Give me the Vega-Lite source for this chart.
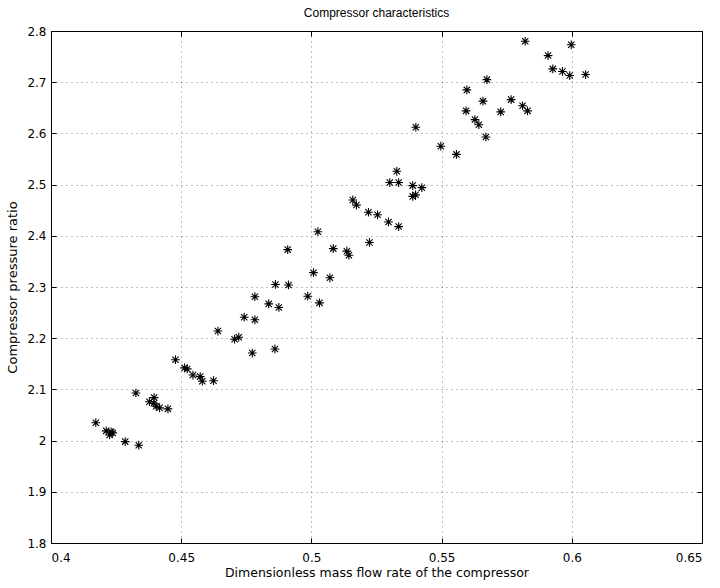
{
  "$schema": "https://vega.github.io/schema/vega-lite/v6.json",
  "autosize": "none",
  "width": 651,
  "height": 512,
  "padding": {"left": 51, "top": 31, "right": 18, "bottom": 45},
  "background": "white",
  "title": {"text": "Compressor characteristics", "font": "Liberation Sans", "fontSize": 12, "fontWeight": "normal", "color": "#000", "anchor": "middle", "frame": "group", "offset": -7, "baseline": "bottom"},
  "config": {
    "view": {"stroke": "#000", "strokeWidth": 1},
    "axis": {"labelFont": "DejaVu Sans", "labelFontSize": 12, "labelColor": "#000", "titleFont": "DejaVu Sans", "titleFontWeight": "normal", "titleColor": "#000", "domainColor": "#000", "tickColor": "#000", "tickSize": -5, "gridColor": "#000", "gridOpacity": 0.5, "gridDash": [1, 4], "gridWidth": 1}
  },
  "data": {"values": [
    {"flow": 0.5821, "ratio": 2.780}, {"flow": 0.5998, "ratio": 2.773}, {"flow": 0.5909, "ratio": 2.752}, {"flow": 0.5927, "ratio": 2.726},
    {"flow": 0.5964, "ratio": 2.721}, {"flow": 0.5992, "ratio": 2.713}, {"flow": 0.6053, "ratio": 2.715}, {"flow": 0.5674, "ratio": 2.705},
    {"flow": 0.5597, "ratio": 2.685}, {"flow": 0.5659, "ratio": 2.663}, {"flow": 0.5767, "ratio": 2.666}, {"flow": 0.5594, "ratio": 2.644},
    {"flow": 0.5727, "ratio": 2.642}, {"flow": 0.5811, "ratio": 2.654}, {"flow": 0.5830, "ratio": 2.644}, {"flow": 0.5628, "ratio": 2.627},
    {"flow": 0.5643, "ratio": 2.617}, {"flow": 0.5670, "ratio": 2.593}, {"flow": 0.5401, "ratio": 2.612}, {"flow": 0.5497, "ratio": 2.575},
    {"flow": 0.5557, "ratio": 2.559}, {"flow": 0.5328, "ratio": 2.526}, {"flow": 0.5301, "ratio": 2.504}, {"flow": 0.5335, "ratio": 2.504},
    {"flow": 0.5389, "ratio": 2.498}, {"flow": 0.5424, "ratio": 2.494}, {"flow": 0.5389, "ratio": 2.477}, {"flow": 0.5400, "ratio": 2.480},
    {"flow": 0.5159, "ratio": 2.470}, {"flow": 0.5173, "ratio": 2.460}, {"flow": 0.5219, "ratio": 2.446}, {"flow": 0.5254, "ratio": 2.441},
    {"flow": 0.5296, "ratio": 2.427}, {"flow": 0.5335, "ratio": 2.418}, {"flow": 0.5025, "ratio": 2.408}, {"flow": 0.5223, "ratio": 2.387},
    {"flow": 0.5084, "ratio": 2.375}, {"flow": 0.4909, "ratio": 2.373}, {"flow": 0.5136, "ratio": 2.370}, {"flow": 0.5144, "ratio": 2.362},
    {"flow": 0.5008, "ratio": 2.328}, {"flow": 0.5071, "ratio": 2.318}, {"flow": 0.4862, "ratio": 2.305}, {"flow": 0.4912, "ratio": 2.304},
    {"flow": 0.4986, "ratio": 2.282}, {"flow": 0.5031, "ratio": 2.269}, {"flow": 0.4783, "ratio": 2.281}, {"flow": 0.4836, "ratio": 2.267},
    {"flow": 0.4875, "ratio": 2.260}, {"flow": 0.4742, "ratio": 2.241}, {"flow": 0.4783, "ratio": 2.236}, {"flow": 0.4641, "ratio": 2.214},
    {"flow": 0.4705, "ratio": 2.198}, {"flow": 0.4721, "ratio": 2.202}, {"flow": 0.4773, "ratio": 2.171}, {"flow": 0.4860, "ratio": 2.179},
    {"flow": 0.4478, "ratio": 2.158}, {"flow": 0.4513, "ratio": 2.142}, {"flow": 0.4523, "ratio": 2.140}, {"flow": 0.4545, "ratio": 2.128},
    {"flow": 0.4573, "ratio": 2.125}, {"flow": 0.4581, "ratio": 2.116}, {"flow": 0.4624, "ratio": 2.117}, {"flow": 0.4326, "ratio": 2.093},
    {"flow": 0.4378, "ratio": 2.076}, {"flow": 0.4396, "ratio": 2.084}, {"flow": 0.4395, "ratio": 2.073}, {"flow": 0.4404, "ratio": 2.067},
    {"flow": 0.4417, "ratio": 2.064}, {"flow": 0.4449, "ratio": 2.062}, {"flow": 0.4172, "ratio": 2.035}, {"flow": 0.4212, "ratio": 2.019},
    {"flow": 0.4231, "ratio": 2.017}, {"flow": 0.4225, "ratio": 2.011}, {"flow": 0.4237, "ratio": 2.015}, {"flow": 0.4285, "ratio": 1.998},
    {"flow": 0.4337, "ratio": 1.991}
  ]},
  "layer": [
    {
      "mark": {"type": "point", "shape": "M-1,0L1,0M0,-1L0,1M-0.72,-0.72L0.72,0.72M-0.72,0.72L0.72,-0.72", "filled": false, "stroke": "#000", "strokeWidth": 1.1, "size": 76, "opacity": 1},
      "encoding": {
        "x": {"field": "flow", "type": "quantitative", "scale": {"domain": [0.4, 0.65], "nice": false, "zero": false},
              "axis": {"orient": "bottom", "title": "Dimensionless mass flow rate of the compressor", "titleFontSize": 12.5, "titlePadding": 3, "values": [0.4, 0.45, 0.5, 0.55, 0.6, 0.65], "labelExpr": "format(datum.value, '~g')", "labelPadding": 14.5, "grid": true, "domain": true}},
        "y": {"field": "ratio", "type": "quantitative", "scale": {"domain": [1.8, 2.8], "nice": false, "zero": false},
              "axis": {"orient": "left", "title": "Compressor pressure ratio", "titleFontSize": 13, "titlePadding": 7, "values": [1.8, 1.9, 2.0, 2.1, 2.2, 2.3, 2.4, 2.5, 2.6, 2.7, 2.8], "labelExpr": "format(datum.value, '~g')", "labelPadding": 10, "grid": true, "domain": true}}
      }
    },
    {
      "mark": {"type": "point", "opacity": 0},
      "encoding": {
        "x": {"field": "flow", "type": "quantitative", "axis": {"orient": "top", "title": null, "labels": false, "grid": false, "values": [0.4, 0.45, 0.5, 0.55, 0.6, 0.65]}},
        "y": {"field": "ratio", "type": "quantitative", "axis": {"orient": "right", "title": null, "labels": false, "grid": false, "values": [1.8, 1.9, 2.0, 2.1, 2.2, 2.3, 2.4, 2.5, 2.6, 2.7, 2.8]}}
      }
    }
  ],
  "resolve": {"axis": {"x": "independent", "y": "independent"}}
}
